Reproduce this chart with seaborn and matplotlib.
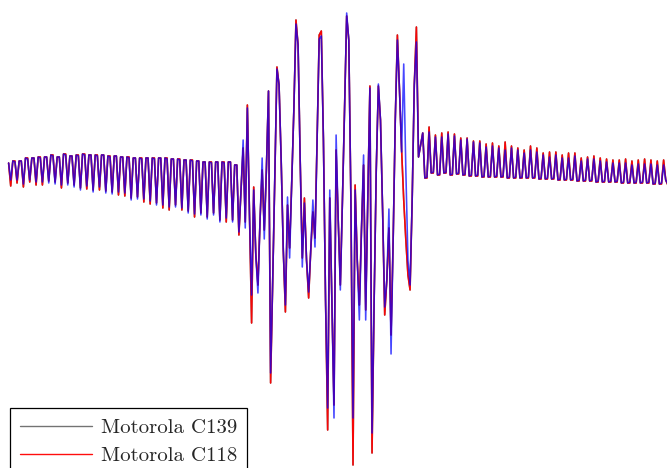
import numpy as np
import pandas as pd
import matplotlib
matplotlib.use("Agg")
import matplotlib.pyplot as plt
import seaborn as sns

# Captured burst, amplitude in ADC counts, one value per sample.
# Each capture is split into the lead-in ripple, the burst and the tail ripple.

c118_lead = [
    2,
    -21, 4, 4, -18, 4, 4, -22, 7, 7, -17, 7, 7, -20, 8, 8, -20, 8, 8,
    -16, 10, 10, -17, 8, 8, -23, 11, 11, -18, 9, 9, -20, 10, 10, -23, 11, 11,
    -24, 10, 10, -25, 10, 10, -25, 10, 10, -26, 9, 9, -27, 9, 9, -30, 8, 8,
    -31, 8, 8, -33, 7, 7, -32, 7, 7, -37, 7, 7, -39, 7, 7, -38, 7, 7,
    -43, 7, 7, -45, 6, 6, -40, 6, 6, -45, 5, 5, -46, 5, 5, -52, 4, 4,
    -48, 3, 3, -52, 3, 3, -48, 3, 3, -55, 3, 3, -57, 3, 3, -55, 0, 0,
]
c118_burst = [
    -70, -25, 17, -57, 60, -50, -158, -22, -90, -120,
    -55, -5, -65, -5, 74, -218, -115, -12, 98, 80,
    5, -85, -147, -40, -83, -17, 55, 145, 120, 5,
    -93, -33, -95, -133, -85, -47, -73, 25, 130, 134,
    25, -135, -265, -33, -135, -240, 15, -55, -120, -35,
    55, 149, 125, -35, -300, -20, -95, -140, -65, 0,
    -145, -35, 79, -288, -135, -5, 79, 45, -45, -150,
    -115, -63, -170, -75, 45, 130, 75, 15, -35, -75,
    -110, -125, -35, 80, 138, 8, 20,
]
c118_tail = [
    32, -13, -13, 38, -8, -8, 30, -10, -10, 32, -8, -8, 33, -10, -10, 31, -9, -9,
    27, -10, -10, 27, -11, -11, 24, -11, -11, 24, -12, -12, 21, -12, -12, 22, -12, -12,
    19, -12, -12, 23, -13, -13, 19, -13, -13, 17, -13, -13, 15, -13, -13, 19, -13, -13,
    17, -14, -14, 12, -14, -14, 13, -14, -14, 13, -15, -15, 10, -15, -15, 12, -15, -15,
    12, -16, -16, 7, -16, -16, 8, -16, -16, 9, -17, -17, 7, -17, -17, 6, -17, -17,
    5, -17, -17, 5, -18, -18, 6, -18, -18, 4, -18, -18, 5, -18, -18, 6, -18, -18,
    5, -19, -19, 4, -19, -19, 5, -15, -20,
]

c139_lead = [
    2,
    -21, 4, 4, -18, 4, 4, -22, 7, 7, -17, 7, 7, -20, 8, 8, -20, 8, 8,
    -16, 10, 10, -17, 8, 8, -23, 11, 11, -18, 9, 9, -20, 10, 10, -23, 11, 11,
    -24, 10, 10, -25, 10, 10, -25, 10, 10, -26, 9, 9, -27, 9, 9, -30, 8, 8,
    -31, 8, 8, -33, 7, 7, -32, 7, 7, -37, 7, 7, -39, 7, 7, -38, 7, 7,
    -43, 7, 7, -45, 6, 6, -40, 6, 6, -45, 5, 5, -46, 5, 5, -52, 4, 4,
    -48, 3, 3, -52, 3, 3, -48, 3, 3, -55, 3, 3, -57, 3, 3, -55, 0, 0,
]
c139_burst = [
    -70, -25, 17, -57, 60, -50, -158, -22, -90, -120,
    -55, -5, -65, -5, 74, -218, -115, -12, 98, 80,
    5, -85, -147, -40, -83, -17, 55, 145, 120, 5,
    -93, -33, -95, -133, -85, -47, -73, 25, 130, 134,
    25, -135, -265, -33, -135, -240, 15, -55, -120, -35,
    55, 149, 125, -35, -300, -20, -95, -140, -65, 0,
    -145, -35, 79, -288, -135, -5, 79, 45, -45, -150,
    -115, -63, -170, -75, 45, 130, 75, 15, -35, -75,
    -110, -125, -35, 80, 138, 8, 20,
]
c139_tail = [
    32, -13, -13, 38, -8, -8, 30, -10, -10, 32, -8, -8, 33, -10, -10, 31, -9, -9,
    27, -10, -10, 27, -11, -11, 24, -11, -11, 24, -12, -12, 21, -12, -12, 22, -12, -12,
    19, -12, -12, 23, -13, -13, 19, -13, -13, 17, -13, -13, 15, -13, -13, 19, -13, -13,
    17, -14, -14, 12, -14, -14, 13, -14, -14, 13, -15, -15, 10, -15, -15, 12, -15, -15,
    12, -16, -16, 7, -16, -16, 8, -16, -16, 9, -17, -17, 7, -17, -17, 6, -17, -17,
    5, -17, -17, 5, -18, -18, 6, -18, -18, 4, -18, -18, 5, -18, -18, 6, -18, -18,
    5, -19, -19, 4, -19, -19, 5, -15, -20,
]

handset3_lead = [
    2,
    -15, 4, 3, -15, 4, 4, -19, 7, 6, -15, 7, 7, -17, 8, 7, -17, 8, 8,
    -18, 10, 9, -19, 8, 8, -20, 11, 10, -20, 9, 9, -22, 10, 9, -25, 11, 10,
    -21, 10, 10, -27, 10, 9, -22, 10, 10, -28, 9, 8, -29, 9, 9, -27, 8, 8,
    -28, 8, 7, -35, 7, 7, -34, 7, 6, -34, 7, 7, -36, 7, 6, -40, 7, 7,
    -40, 7, 6, -42, 6, 6, -42, 6, 5, -43, 5, 5, -48, 5, 4, -49, 4, 4,
    -50, 3, 3, -54, 3, 2, -50, 3, 3, -57, 3, 2, -53, 3, 3, -57, 0, 0,
]
handset3_burst = [
    -67, -25, 25, -63, 57, -50, -130, -25, -90, -128,
    -55, 7, -74, -5, 74, -208, -115, -12, 96, 80,
    5, -85, -140, -32, -93, -17, 55, 141, 120, 5,
    -102, -38, -95, -127, -85, -35, -82, 25, 126, 129,
    25, -135, -243, -25, -135, -253, 30, -55, -125, -35,
    55, 152, 125, -35, -253, -25, -95, -155, -65, 10,
    -155, -35, 77, -268, -135, -5, 81, 45, -45, -142,
    -115, -44, -189, -75, 45, 125, 75, 13, 101, -5,
    -95, -120, -35, 80, 123, 8, 20,
]
handset3_tail = [
    32, -13, -12, 33, -8, -7, 28, -10, -9, 28, -8, -7, 31, -10, -9, 29, -9, -8,
    25, -10, -9, 26, -11, -10, 23, -11, -10, 22, -12, -11, 18, -12, -11, 19, -12, -11,
    17, -12, -11, 15, -13, -12, 17, -13, -12, 15, -13, -12, 12, -13, -12, 15, -13, -12,
    13, -14, -13, 10, -14, -13, 8, -14, -13, 10, -15, -14, 7, -15, -14, 7, -15, -14,
    9, -16, -15, 4, -16, -15, 6, -16, -15, 6, -17, -16, 4, -17, -16, 3, -17, -16,
    2, -17, -16, 2, -18, -17, 2, -18, -17, 0, -18, -17, 1, -18, -17, 1, -18, -17,
    1, -19, -18, 0, -19, -18, 0, -15, -19,
]

traces = [
    ("Motorola C139", c139_lead + c139_burst + c139_tail),
    ("Motorola C118", c118_lead + c118_burst + c118_tail),
    ("handset 3", handset3_lead + handset3_burst + handset3_tail),
]

frames = []
for phone, values in traces:
    frames.append(pd.DataFrame({
        "sample": np.arange(len(values)),
        "amplitude": values,
        "phone": phone,
    }))
df = pd.concat(frames, ignore_index=True)

sns.set_theme(style="white")
plt.rcParams["font.family"] = ["cmr10", "DejaVu Serif"]
plt.rcParams["axes.formatter.use_mathtext"] = True

fig = plt.figure(figsize=(6.67, 4.68), dpi=100)
ax = fig.add_axes([0, 0, 1, 1])

styles = {
    "Motorola C139": dict(color="black", alpha=0.55, label="Motorola C139"),
    "Motorola C118": dict(color="red", alpha=0.95, label="Motorola C118"),
    "handset 3": dict(color="blue", alpha=0.72, label="_nolegend_"),
}
for phone, _ in traces:
    sns.lineplot(
        data=df[df["phone"] == phone], x="sample", y="amplitude",
        estimator=None, sort=False, linewidth=1.15, ax=ax, **styles[phone],
    )

ax.set_xlim(-4.07, 311.6)
ax.set_ylim(-303, 165)
ax.set_axis_off()

leg = ax.legend(
    loc="upper left", bbox_to_anchor=(10 / 667, 1 - 408 / 468),
    borderaxespad=0, fontsize=15, frameon=True, fancybox=False,
    edgecolor="black", framealpha=1, handlelength=3.45, handletextpad=0.4,
    borderpad=0.5, labelspacing=0.45,
)
leg.get_frame().set_linewidth(0.9)
for line in leg.get_lines():
    line.set_linewidth(1.0)

fig.savefig("out.png", dpi=100)
